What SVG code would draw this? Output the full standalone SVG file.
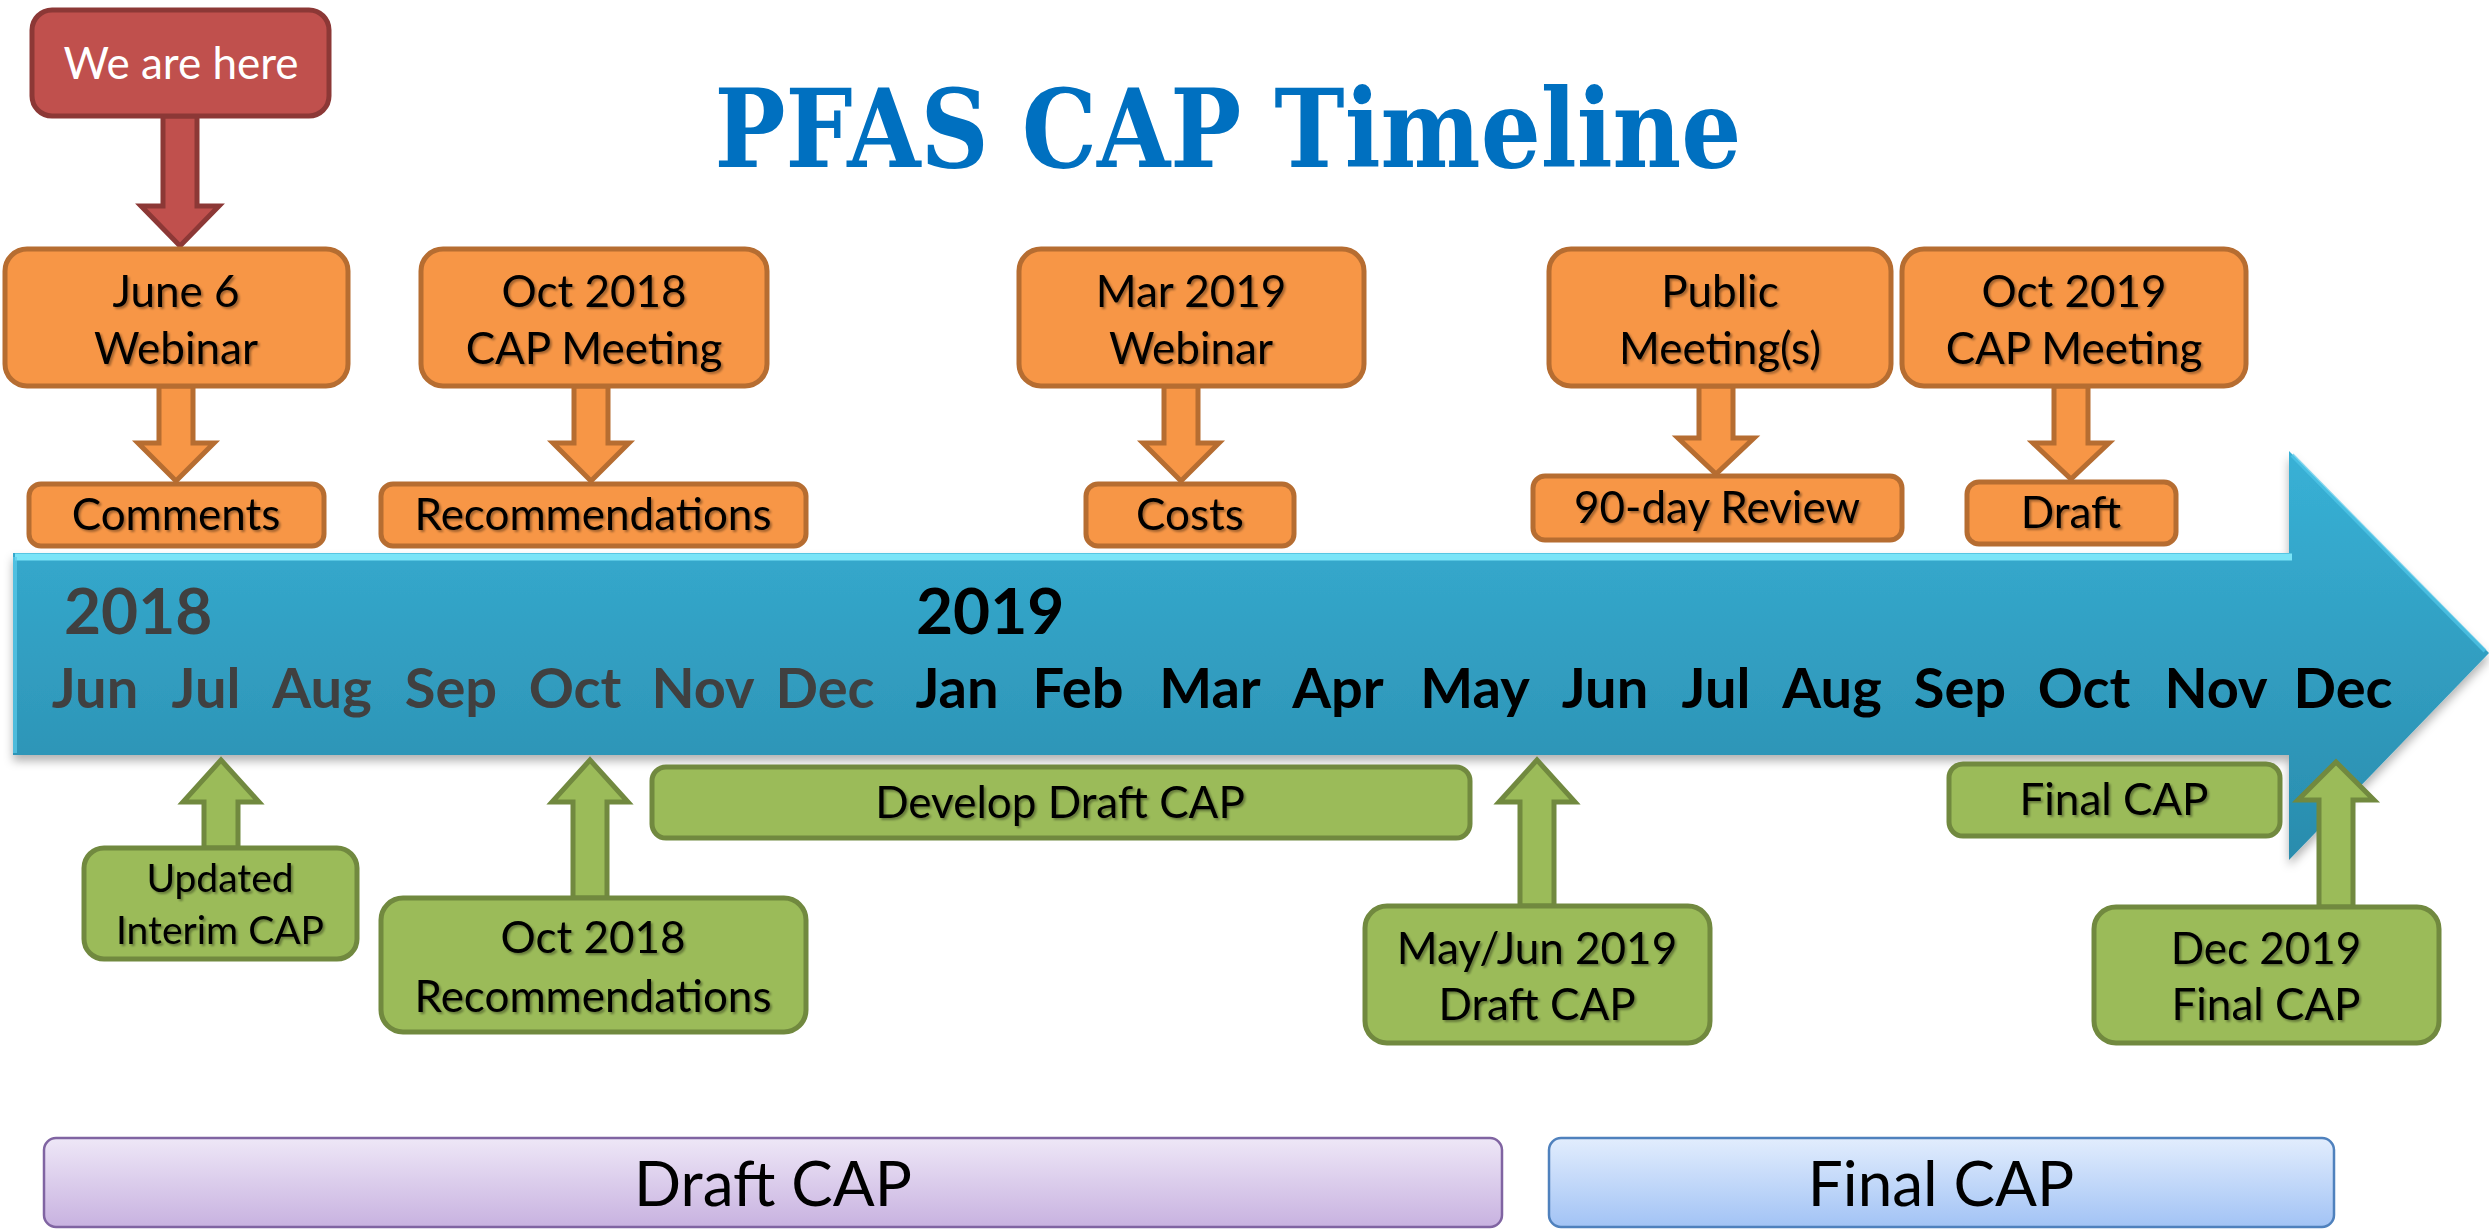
<svg xmlns="http://www.w3.org/2000/svg" width="2489" height="1231" viewBox="0 0 2489 1231">
<defs>
<linearGradient id="gBlue" x1="0" y1="0" x2="0" y2="1">
<stop offset="0" stop-color="#38B1D6"/>
<stop offset="1" stop-color="#2A8CAD"/>
</linearGradient>
<linearGradient id="gPurple" x1="0" y1="0" x2="0" y2="1">
<stop offset="0" stop-color="#EEE7F7"/>
<stop offset="1" stop-color="#C8B2E0"/>
</linearGradient>
<linearGradient id="gLBlue" x1="0" y1="0" x2="0" y2="1">
<stop offset="0" stop-color="#E2EDFD"/>
<stop offset="1" stop-color="#A2C3F5"/>
</linearGradient>
<filter id="tsh" x="-10%" y="-20%" width="130%" height="150%">
<feDropShadow dx="2" dy="2" stdDeviation="1.2" flood-color="#000" flood-opacity="0.35"/>
</filter>
<filter id="ash" x="-5%" y="-10%" width="110%" height="130%">
<feDropShadow dx="0" dy="6" stdDeviation="5" flood-color="#000" flood-opacity="0.3"/>
</filter>
</defs>
<style>
.or{fill:#F79646;stroke:#B66D31;stroke-width:5}
.gr{fill:#9BBB59;stroke:#71893F;stroke-width:5}
.rd{fill:#C0504D;stroke:#8C3836;stroke-width:5}
.t{font-family:Lato,"Open Sans",sans-serif;font-size:44px;fill:#000;text-anchor:middle}
.ts{font-size:39px}
.sh{filter:url(#tsh)}
.mo{font-family:Lato,"Open Sans",sans-serif;font-size:56px;font-weight:bold;text-anchor:middle}
.yr{font-family:Lato,"Open Sans",sans-serif;font-size:64px;font-weight:bold}
.g18{fill:#404040}
.g19{fill:#000}
</style>
<rect width="2489" height="1231" fill="#FFFFFF"/>

<text id="title" x="1228" y="167" font-family="'DejaVu Serif','Liberation Serif',serif" font-weight="bold" font-size="108" fill="#0070C0" text-anchor="middle" textLength="1027" lengthAdjust="spacingAndGlyphs">PFAS CAP Timeline</text>

<g id="timeline-arrow">
<path d="M13,553 L2289,553 L2289,451 L2489,653 L2289,860 L2289,755 L13,755 Z" fill="url(#gBlue)" filter="url(#ash)"/>
<path d="M15,557 L2292,557" stroke="#86EEFF" stroke-width="7" fill="none" opacity="0.85"/>
<path d="M15,557 L15,753" stroke="#5CCBEA" stroke-width="4" fill="none" opacity="0.7"/>
<path d="M2292,455 L2485,651" stroke="#52C8EA" stroke-width="4" fill="none" opacity="0.7"/>
<text class="yr g18" x="64" y="634">2018</text>
<text class="yr g19" x="916" y="634">2019</text>
<text class="mo g18" x="95" y="708">Jun</text>
<text class="mo g18" x="206" y="708">Jul</text>
<text class="mo g18" x="322" y="708">Aug</text>
<text class="mo g18" x="451" y="708">Sep</text>
<text class="mo g18" x="575" y="708">Oct</text>
<text class="mo g18" x="703" y="708">Nov</text>
<text class="mo g18" x="825" y="708">Dec</text>
<text class="mo g19" x="957" y="708">Jan</text>
<text class="mo g19" x="1078" y="708">Feb</text>
<text class="mo g19" x="1210" y="708">Mar</text>
<text class="mo g19" x="1338" y="708">Apr</text>
<text class="mo g19" x="1475" y="708">May</text>
<text class="mo g19" x="1605" y="708">Jun</text>
<text class="mo g19" x="1716" y="708">Jul</text>
<text class="mo g19" x="1832" y="708">Aug</text>
<text class="mo g19" x="1960" y="708">Sep</text>
<text class="mo g19" x="2084" y="708">Oct</text>
<text class="mo g19" x="2216" y="708">Nov</text>
<text class="mo g19" x="2343" y="708">Dec</text>
</g>

<g id="connectors">
<path class="rd" d="M163,116 L197,116 L197,206 L219,206 L180,246 L141,206 L163,206 Z"/>
<path class="or" d="M159,386 L193,386 L193,443 L214,443 L176,481 L138,443 L159,443 Z"/>
<path class="or" d="M574,386 L608,386 L608,443 L629,443 L591,481 L553,443 L574,443 Z"/>
<path class="or" d="M1164,386 L1198,386 L1198,443 L1219,443 L1181,481 L1143,443 L1164,443 Z"/>
<path class="or" d="M1699,386 L1733,386 L1733,438 L1754,438 L1716,474 L1678,438 L1699,438 Z"/>
<path class="or" d="M2054,386 L2088,386 L2088,443 L2109,443 L2071,479 L2033,443 L2054,443 Z"/>
<path class="gr" d="M204,848 L238,848 L238,802 L259,802 L221,760 L183,802 L204,802 Z"/>
<path class="gr" d="M573,898 L607,898 L607,802 L628,802 L590,760 L552,802 L573,802 Z"/>
<path class="gr" d="M1520,906 L1554,906 L1554,802 L1575,802 L1537,760 L1499,802 L1520,802 Z"/>
<path class="gr" d="M2319,907 L2353,907 L2353,800 L2374,800 L2336,762 L2298,800 L2319,800 Z"/>
</g>

<g id="we-are-here">
<rect class="rd" x="32" y="10" width="297" height="106" rx="20"/>
<text class="t" x="181" y="79" style="fill:#FFFFFF">We are here</text>
</g>

<g id="june6-webinar">
<rect class="or" x="5" y="249" width="343" height="137" rx="22"/>
<text class="t sh" x="176" y="307">June 6</text>
<text class="t sh" x="176" y="364">Webinar</text>
</g>
<g id="oct2018-cap-meeting">
<rect class="or" x="421" y="249" width="346" height="137" rx="22"/>
<text class="t sh" x="594" y="307">Oct 2018</text>
<text class="t sh" x="594" y="364">CAP Meeting</text>
</g>
<g id="mar2019-webinar">
<rect class="or" x="1019" y="249" width="345" height="137" rx="22"/>
<text class="t sh" x="1191" y="307">Mar 2019</text>
<text class="t sh" x="1191" y="364">Webinar</text>
</g>
<g id="public-meetings">
<rect class="or" x="1549" y="249" width="342" height="137" rx="22"/>
<text class="t sh" x="1720" y="307">Public</text>
<text class="t sh" x="1720" y="364">Meeting(s)</text>
</g>
<g id="oct2019-cap-meeting">
<rect class="or" x="1902" y="249" width="344" height="137" rx="22"/>
<text class="t sh" x="2074" y="307">Oct 2019</text>
<text class="t sh" x="2074" y="364">CAP Meeting</text>
</g>

<g id="comments">
<rect class="or" x="29" y="484" width="295" height="62" rx="12"/>
<text class="t sh" x="176" y="530">Comments</text>
</g>
<g id="recommendations">
<rect class="or" x="381" y="484" width="425" height="62" rx="12"/>
<text class="t sh" x="593" y="530">Recommendations</text>
</g>
<g id="costs">
<rect class="or" x="1086" y="484" width="208" height="62" rx="12"/>
<text class="t sh" x="1190" y="530">Costs</text>
</g>
<g id="review-90day">
<rect class="or" x="1533" y="476" width="369" height="64" rx="12"/>
<text class="t sh" x="1717" y="523">90-day Review</text>
</g>
<g id="draft">
<rect class="or" x="1967" y="482" width="209" height="62" rx="12"/>
<text class="t sh" x="2071" y="528">Draft</text>
</g>

<g id="updated-interim-cap">
<rect class="gr" x="84" y="848" width="273" height="111" rx="20"/>
<text class="t ts sh" x="220" y="892">Updated</text>
<text class="t ts sh" x="220" y="944">Interim CAP</text>
</g>
<g id="oct2018-recommendations">
<rect class="gr" x="381" y="898" width="425" height="134" rx="22"/>
<text class="t sh" x="593" y="953">Oct 2018</text>
<text class="t sh" x="593" y="1012">Recommendations</text>
</g>
<g id="develop-draft-cap">
<rect class="gr" x="652" y="767" width="818" height="71" rx="14"/>
<text class="t sh" x="1060" y="818">Develop Draft CAP</text>
</g>
<g id="mayjun2019-draft-cap">
<rect class="gr" x="1365" y="906" width="345" height="137" rx="22"/>
<text class="t sh" x="1537" y="964">May/Jun 2019</text>
<text class="t sh" x="1537" y="1020">Draft CAP</text>
</g>
<g id="final-cap">
<rect class="gr" x="1949" y="764" width="331" height="72" rx="14"/>
<text class="t sh" x="2114" y="815">Final CAP</text>
</g>
<g id="dec2019-final-cap">
<rect class="gr" x="2094" y="907" width="345" height="136" rx="22"/>
<text class="t sh" x="2266" y="964">Dec 2019</text>
<text class="t sh" x="2266" y="1020">Final CAP</text>
</g>

<g id="phase-draft-cap">
<rect x="44" y="1138" width="1458" height="89" rx="12" fill="url(#gPurple)" stroke="#8064A2" stroke-width="2.5"/>
<text class="t" x="773" y="1206" style="font-size:62px">Draft CAP</text>
</g>
<g id="phase-final-cap">
<rect x="1549" y="1138" width="785" height="89" rx="12" fill="url(#gLBlue)" stroke="#4F81BD" stroke-width="2.5"/>
<text class="t" x="1941" y="1206" style="font-size:62px">Final CAP</text>
</g>
</svg>
